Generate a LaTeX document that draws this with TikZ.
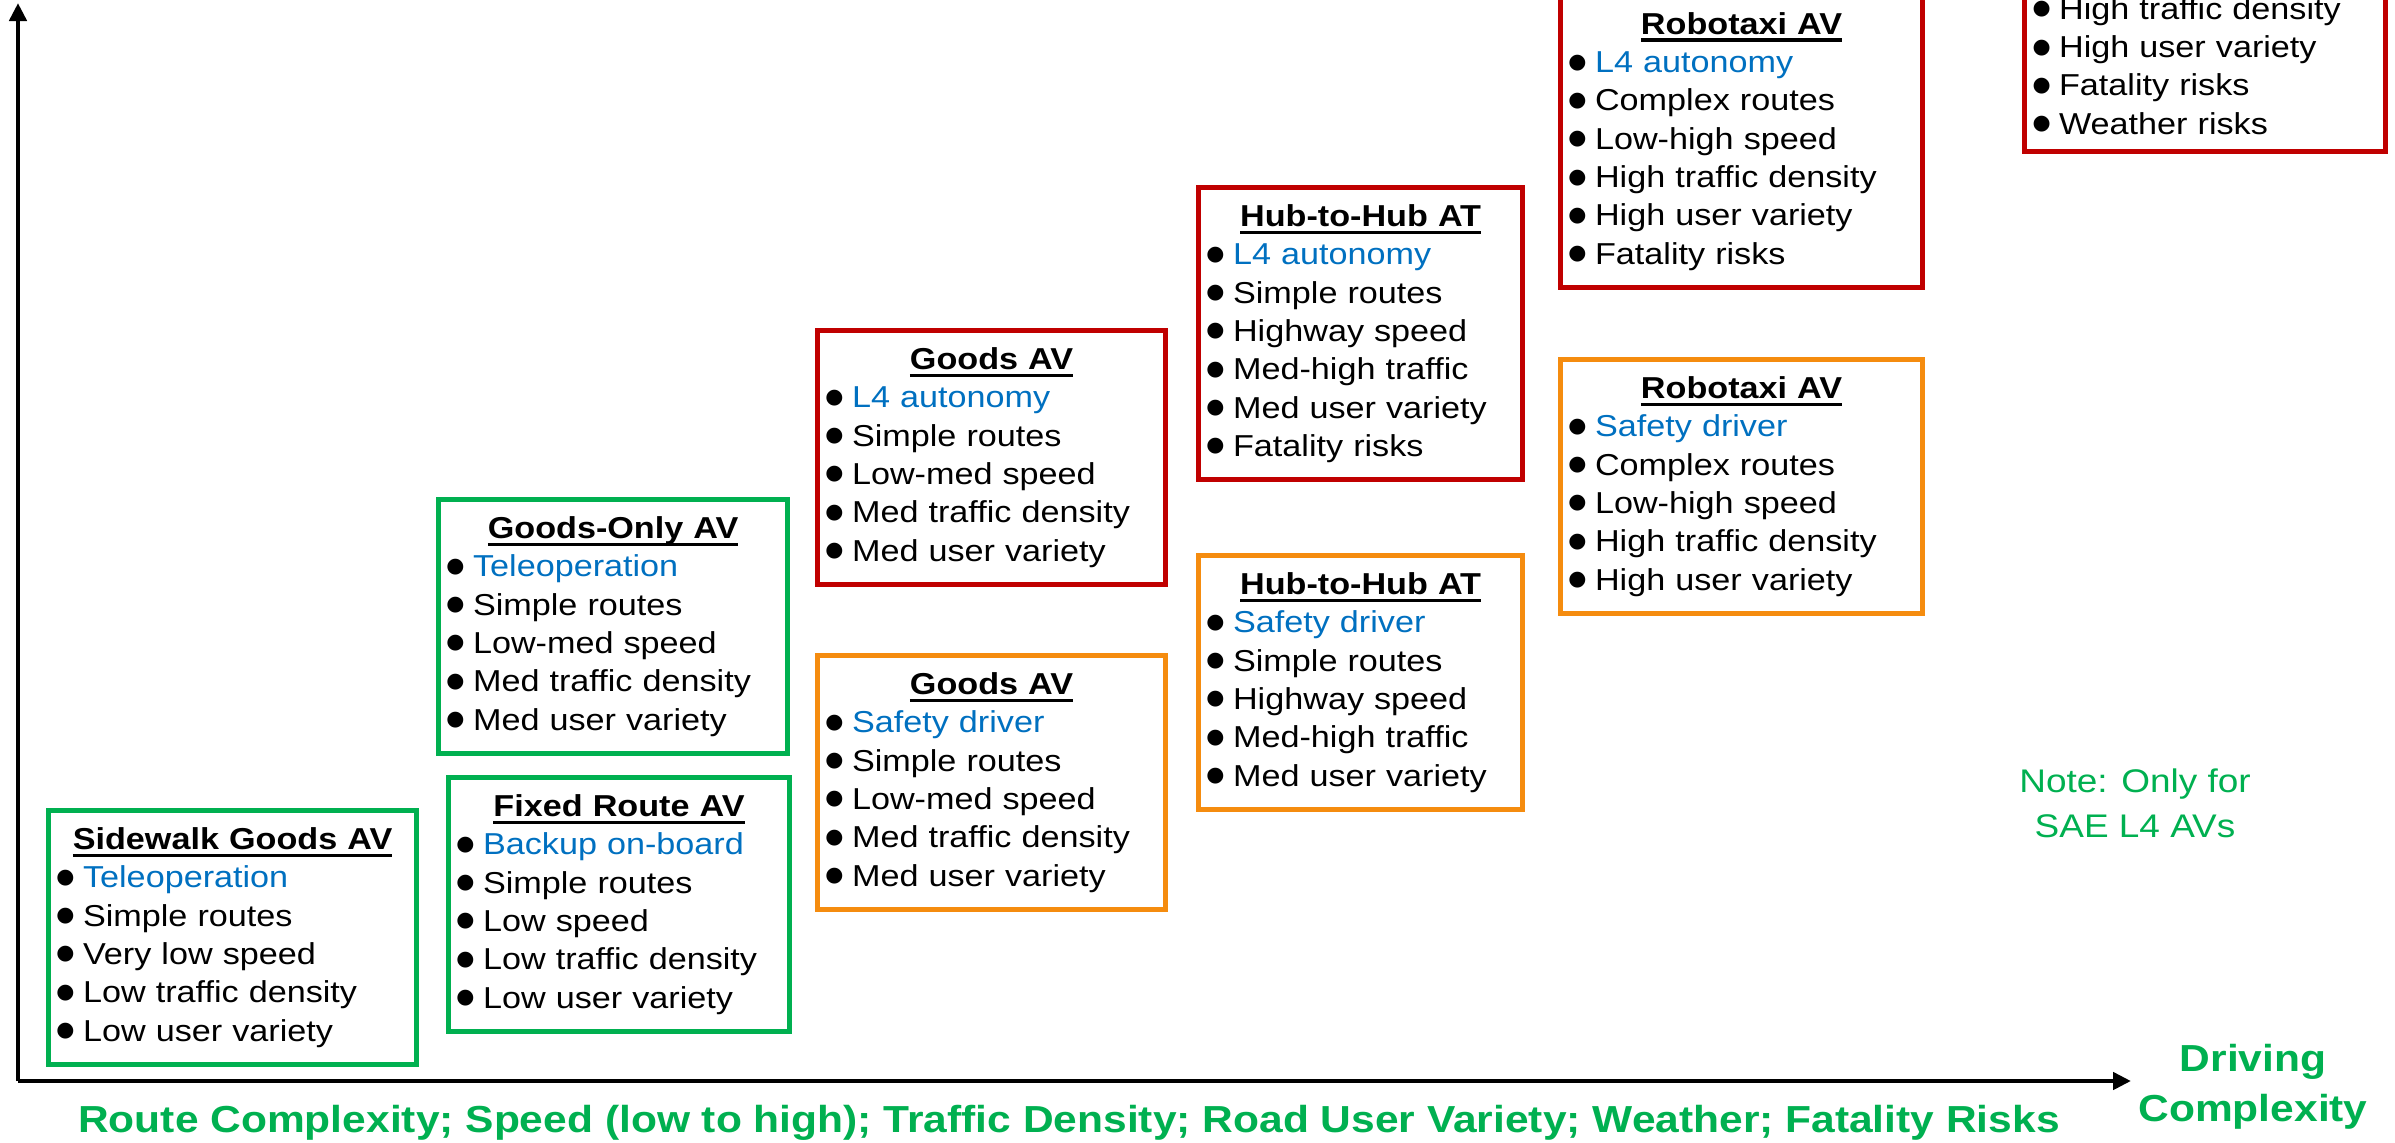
\documentclass[tikz,border=0pt]{standalone}
\usepackage{fontspec}
\setmainfont{Liberation Sans}[FakeStretch=1.13]
\newfontfamily\dotfont{DejaVu Sans}
\usepackage{tikz}
\usetikzlibrary{positioning}
\usetikzlibrary{arrows.meta}
\definecolor{avgreen}{RGB}{0,176,80}
\definecolor{avred}{RGB}{192,0,0}
\definecolor{avorange}{RGB}{245,140,15}
\definecolor{avblue}{RGB}{0,112,192}
\newcommand{\avfont}{\fontsize{8.6pt}{10.9pt}\selectfont}
\newcommand{\boxtitle}[1]{\makebox[\linewidth]{\setbox0\hbox{\bfseries #1}\rlap{\rule[-2.3pt]{\wd0}{1.1pt}}\box0}}
\newcommand{\avdot}{\raisebox{1.25pt}[0pt][0pt]{\dotfont\fontsize{5.9pt}{5.9pt}\selectfont ●}\hspace{0.28em}}
\newcommand{\avitem}[1]{\avdot #1}
\newcommand{\avkey}[1]{\avdot\textcolor{avblue}{#1}}
\tikzset{
    avbox/.style = {rectangle, line width=1.4pt, align=left, anchor=north west, inner xsep=0.08cm, inner ysep=0.17cm, font=\avfont, text=black},
    avboxg/.style = {avbox, draw=avgreen},
    avboxr/.style = {avbox, draw=avred},
    avboxo/.style = {avbox, draw=avorange},
    axisn/.style = {-{Triangle[length=0.18cm,width=0.17cm]}, line width=1.4pt, black},
    notetext/.style = {align=center, text=avgreen, font=\fontsize{9.3pt}{12.8pt}\selectfont},
    axislabel/.style = {align=center, text=avgreen, font=\fontsize{10.7pt}{14.2pt}\selectfont\bfseries}
}

\begin{document}
\begin{tikzpicture}[x=0.01cm,y=-0.01cm]
\useasboundingbox (0,0) rectangle (2395,1143);
\clip (0,0) rectangle (2395,1143);
% axes
\coordinate (o) at (18,1081);
\coordinate (ytop) at (18,3);
\coordinate (xend) at (2131,1081);
\draw[axisn] (o) -- (ytop);
\draw[axisn] (o) -- (xend);
%
\node[avboxg, text width=3.52cm] at (46, 808) (sidewalk) {\boxtitle{Sidewalk Goods AV}\\ \avkey{Teleoperation}\\ \avitem{Simple routes}\\ \avitem{Very low speed}\\ \avitem{Low traffic density}\\ \avitem{Low user variety}};
\node[avboxg, text width=3.33cm] at (436, 497) (goodsonly) {\boxtitle{Goods-Only AV}\\ \avkey{Teleoperation}\\ \avitem{Simple routes}\\ \avitem{Low-med speed}\\ \avitem{Med traffic density}\\ \avitem{Med user variety}};
\node[avboxg, text width=3.25cm] at (446, 775) (fixedroute) {\boxtitle{Fixed Route AV}\\ \avkey{Backup on-board}\\ \avitem{Simple routes}\\ \avitem{Low speed}\\ \avitem{Low traffic density}\\ \avitem{Low user variety}};
\node[avboxr, text width=3.32cm] at (815, 328) (goodsr) {\boxtitle{Goods AV}\\ \avkey{L4 autonomy}\\ \avitem{Simple routes}\\ \avitem{Low-med speed}\\ \avitem{Med traffic density}\\ \avitem{Med user variety}};
\node[avboxo, text width=3.32cm] at (815, 653) (goodso) {\boxtitle{Goods AV}\\ \avkey{Safety driver}\\ \avitem{Simple routes}\\ \avitem{Low-med speed}\\ \avitem{Med traffic density}\\ \avitem{Med user variety}};
\node[avboxr, text width=3.08cm] at (1196, 185) (hubr) {\boxtitle{Hub-to-Hub AT}\\ \avkey{L4 autonomy}\\ \avitem{Simple routes}\\ \avitem{Highway speed}\\ \avitem{Med-high traffic}\\ \avitem{Med user variety}\\ \avitem{Fatality risks}};
\node[avboxo, text width=3.08cm] at (1196, 553) (hubo) {\boxtitle{Hub-to-Hub AT}\\ \avkey{Safety driver}\\ \avitem{Simple routes}\\ \avitem{Highway speed}\\ \avitem{Med-high traffic}\\ \avitem{Med user variety}};
\node[avboxr, text width=3.46cm, anchor=south west] at (1558, 290) (taxir) {\boxtitle{Robotaxi AV}\\ \avkey{L4 autonomy}\\ \avitem{Complex routes}\\ \avitem{Low-high speed}\\ \avitem{High traffic density}\\ \avitem{High user variety}\\ \avitem{Fatality risks}};
\node[avboxo, text width=3.46cm] at (1558, 357) (taxio) {\boxtitle{Robotaxi AV}\\ \avkey{Safety driver}\\ \avitem{Complex routes}\\ \avitem{Low-high speed}\\ \avitem{High traffic density}\\ \avitem{High user variety}};
\node[avboxr, text width=3.45cm, anchor=south west] at (2022, 154) (taxiw) {\avitem{High traffic density}\\ \avitem{High user variety}\\ \avitem{Fatality risks}\\ \avitem{Weather risks}};
%
\node[notetext] at (2135, 803) (note) {Note: Only for\\SAE L4 AVs};
\node[axislabel] at (2253, 1087) (drive) {Driving\\Complexity};
\node[axislabel, anchor=base] at (1069, 1132) (factors) {Route Complexity; Speed (low to high); Traffic Density; Road User Variety; Weather; Fatality Risks};

\end{tikzpicture}
\end{document}
